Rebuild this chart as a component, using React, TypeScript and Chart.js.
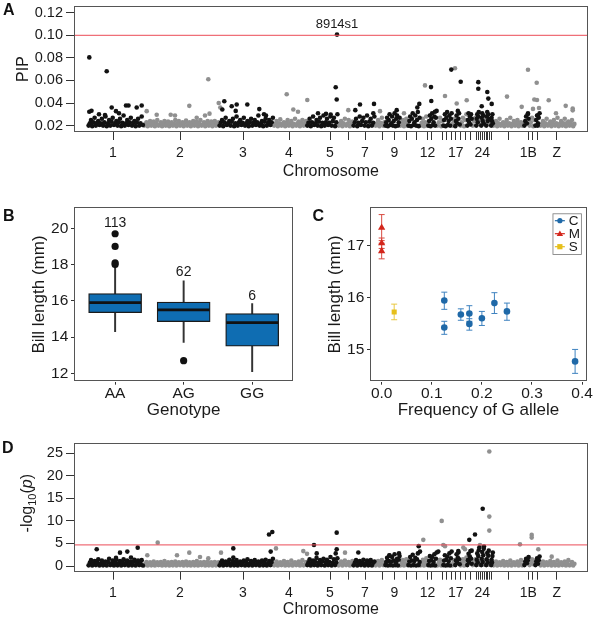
import React, { useEffect, useRef } from 'react';
import { Chart, registerables } from 'chart.js';

Chart.register(...registerables);
const FONT = '"Liberation Sans", Arial, Helvetica, sans-serif';
Chart.defaults.font.family = FONT;
Chart.defaults.color = '#1a1a1a';

// ---------------- Manhattan (genome position units, cumulative) ----------------
const X_MAX = 513.7;
// chromosome segment boundaries (alternating black / gray, starting black)
const segBounds = [14, 69.5, 145, 199.5, 232.7, 264, 279, 301, 311, 326, 334, 346, 354, 363, 369, 378, 381, 386, 393, 398, 402, 405, 407, 410, 412, 415, 417, 419, 450, 455, 461, 466, 501];
const chromTicks = [39, 106, 169, 215, 256, 274.3, 291, 308.5, 320.5, 332, 342, 353.5, 357.7, 368.5, 372.7, 377, 381.8, 386, 391.5, 396.5, 402.7, 404.5, 406.4, 408.3, 410.1, 412, 413.8, 415.7, 417.7, 434, 454.3, 458.5, 463.5, 482.7];
const chromTickLabels = ['1', '2', '3', '4', '5', '', '7', '', '9', '', '', '12', '', '', '', '', '17', '', '', '', '', '', '', '24', '', '', '', '', '', '', '1B', '', '', 'Z'];

// Panel A: PIP background values per chromosome segment
const pipBands: number[][] = [
  [.020, .022, .025, .0195, .023, .027, .020, .0225, .024, .0205, .022, .026, .020, .023, .028, .0195, .022, .025, .020, .0235, .027, .0205, .022, .024, .020, .023, .026, .0195, .0225, .029, .020, .022, .025, .0205, .023, .027, .020, .0225, .024, .0195, .023, .026, .020, .022, .028, .0205],
  [.020, .0215, .023, .0195, .022, .024, .020, .0215, .0235, .0195, .022, .025, .020, .021, .023, .0195, .022, .024, .020, .0215, .0235, .0195, .022, .023, .020, .0215, .025, .0195, .022, .024, .020, .021, .023, .0195, .0225, .0245, .020, .0215, .023, .0195, .022, .024, .020, .0215, .0235, .0195, .022, .025, .020, .021, .023, .0195, .022, .024, .020, .0215, .0235, .0195, .022, .024, .020, .0215, .023],
  [.020, .0225, .025, .0195, .023, .027, .0205, .022, .024, .020, .0235, .026, .0195, .022, .028, .020, .023, .025, .0205, .0225, .027, .020, .022, .024, .0195, .023, .026, .020, .0225, .025, .0205, .023, .029, .020, .022, .024, .0195, .0235, .026, .020, .0225, .025, .0205, .023, .027],
  [.020, .0215, .024, .0195, .022, .0255, .020, .0215, .023, .0195, .0225, .025, .020, .022, .024, .0195, .0215, .026, .020, .022, .0235, .0195, .0225, .025, .020, .0215, .024],
  [.020, .0225, .026, .0195, .023, .028, .0205, .022, .025, .020, .0235, .027, .0195, .0225, .029, .020, .023, .026, .0205, .0225, .028, .020, .024, .027, .0195, .023, .030],
  [.020, .0215, .024, .0195, .022, .026, .020, .0215, .025, .0195, .0225, .0235],
  [.020, .023, .026, .0195, .0225, .028, .0205, .024, .027, .020, .023, .029, .0195, .0235, .026, .020, .0225, .028],
  [.020, .022, .025, .0195, .0225, .027, .020, .023],
  [.020, .023, .027, .0195, .025, .030, .0205, .022, .028, .020, .024, .031, .0195, .026, .029, .020, .023, .027],
  [.020, .022, .025, .0195, .023, .026, .020],
  [.020, .024, .028, .0195, .026, .031, .0205, .023, .029, .020, .025, .032, .0195, .027],
  [.020, .0225, .026, .0195, .023, .028, .020],
  [.020, .024, .029, .0195, .026, .031, .0205, .023, .028, .020, .027, .033],
  [.020, .023, .027, .0195, .024],
  [.020, .025, .030, .0195, .027, .032, .0205, .024, .029, .020, .026, .031],
  [.020, .023, .026],
  [.0195, .024, .029, .022, .033, .026, .031, .021],
  [.020, .023, .027, .0195, .025, .030],
  [.020, .025, .031, .023, .028, .021, .030, .026],
  [.020, .024, .027],
  [.020, .026, .030, .023, .028, .032],
  [.021, .025],
  [.020, .027, .031, .024, .029, .022],
  [.021, .026],
  [.020, .028, .032, .024, .030, .026],
  [.021, .025],
  [.020, .027, .024, .030, .022],
  [.020, .0215, .024, .0195, .022, .026, .020, .0215, .023, .0195, .0225, .025, .020, .022, .027, .0195, .0215, .024, .020, .022, .025, .0195, .0225, .023, .020, .022],
  [.020, .024, .028, .022, .030, .026],
  [.020, .023, .027, .0195, .025],
  [.020, .025, .029, .022, .027, .031],
  [.020, .0215, .024, .0195, .022, .026, .020, .0215, .0235, .0195, .0225, .025, .020, .022, .027, .0195, .0215, .024, .020, .022, .026, .0195, .0225, .0235, .020, .022, .025, .0195, .0215],
];
const pipBlackPos = [15.3, 32.7, 15.3, 17.5, 37.7, 42, 52, 54.5, 62.7, 67.7, 31, 25, 45, 150.3, 148.3, 157.7, 162.7, 161.7, 173.3, 185.3, 190, 192, 263, 261.7, 262.7, 252, 256.7, 244, 286, 281.3, 300, 299.3, 322.7, 357, 357.3, 345.3, 343.3, 361, 377.3, 386.7, 404.3, 404.3, 413.3, 414.3, 417.7, 407.7, 454, 463.7, 463.7];
const pipBlackVal = [.0804, .0682, .0322, .0332, .036, .0328, .0378, .0378, .036, .0378, .0293, .030, .031, .0416, .0343, .0372, .0387, .033, .0387, .0346, .030, .029, .1006, .0539, .0431, .0304, .0298, .031, .0387, .0337, .0392, .031, .0337, .0541, .0418, .0392, .036, .0322, .0696, .0589, .0585, .0527, .0497, .0439, .0392, .0372, .0308, .029, .020];
const pipGrayPos = [134.3, 115.3, 72.7, 82.7, 96.7, 101, 122.7, 131, 135.5, 144.7, 146.3, 212.7, 219.3, 224, 233.3, 274.3, 306, 330, 351, 371, 381, 382.7, 392.7, 433, 447.7, 454, 462.7, 460.3, 463, 459, 465, 474.7, 482, 491.7, 498.7, 498.7];
const pipGrayVal = [.0611, .0375, .0328, .0296, .0296, .029, .027, .029, .0306, .040, .036, .0477, .0343, .0322, .0427, .0337, .0328, .031, .0556, .0462, .0708, .0396, .0425, .0457, .0366, .0694, .058, .0431, .0427, .0348, .0356, .0425, .031, .0375, .0352, .0335];
const pipThreshold = 0.1;
const pipTicks = [0.02, 0.04, 0.06, 0.08, 0.10, 0.12];
const topSnpName = '8914s1';
const topSnpPos = 263;
const topSnpPip = 0.1006;

// Panel D: -log10(p) background values per chromosome segment
const logpBands: number[][] = [
  [0.15, 0.7, 1.3, 0.1, 0.6, 1.1, 0.2, 0.8, 1.5, 0.1, 0.6, 1.2, 0.15, 0.7, 1.0, 0.1, 0.9, 1.6, 0.2, 0.6, 1.2, 0.1, 0.7, 1.4, 0.15, 0.6, 1.1, 0.1, 0.8, 1.5, 0.2, 0.7, 1.2, 0.1, 0.6, 1.0, 0.15, 0.9, 1.4, 0.1, 0.7, 1.2, 0.2, 0.6, 1.3, 0.1],
  [0.15, 0.5, 0.9, 0.1, 0.4, 0.8, 0.15, 0.5, 1.0, 0.1, 0.5, 0.8, 0.2, 0.4, 0.9, 0.1, 0.5, 1.1, 0.15, 0.4, 0.8, 0.1, 0.5, 0.9, 0.15, 0.5, 1.0, 0.1, 0.4, 0.8, 0.2, 0.5, 0.9, 0.1, 0.5, 1.0, 0.15, 0.4, 0.8, 0.1, 0.5, 0.9, 0.15, 0.5, 1.1, 0.1, 0.4, 0.8, 0.2, 0.5, 0.9, 0.1, 0.5, 1.0, 0.15, 0.4, 0.8, 0.1, 0.5, 0.9, 0.15, 0.5, 0.8],
  [0.15, 0.7, 1.2, 0.1, 0.6, 1.0, 0.2, 0.8, 1.4, 0.1, 0.6, 1.1, 0.15, 0.7, 1.3, 0.1, 0.6, 1.0, 0.2, 0.8, 1.2, 0.1, 0.7, 1.5, 0.15, 0.6, 1.1, 0.1, 0.7, 1.3, 0.2, 0.6, 1.0, 0.1, 0.8, 1.2, 0.15, 0.7, 1.4, 0.1, 0.6, 1.1, 0.2, 0.9, 1.6],
  [0.15, 0.5, 1.0, 0.1, 0.4, 0.8, 0.2, 0.5, 1.1, 0.1, 0.6, 0.9, 0.15, 0.4, 1.2, 0.1, 0.5, 0.8, 0.2, 0.6, 1.0, 0.1, 0.5, 1.3, 0.15, 0.4, 0.9],
  [0.2, 0.8, 1.5, 0.1, 0.7, 1.2, 0.2, 0.9, 1.8, 0.1, 0.7, 1.3, 0.2, 1.0, 1.6, 0.1, 0.8, 1.4, 0.2, 0.9, 2.0, 0.1, 0.7, 1.5, 0.2, 0.8, 1.7],
  [0.15, 0.5, 1.0, 0.1, 0.6, 1.2, 0.2, 0.5, 0.9, 0.1, 0.6, 1.1],
  [0.15, 0.7, 1.3, 0.1, 0.8, 1.1, 0.2, 0.7, 1.4, 0.1, 0.6, 1.2, 0.15, 0.8, 1.3, 0.1, 0.7, 1.0],
  [0.15, 0.6, 1.1, 0.1, 0.5, 1.3, 0.2, 0.7],
  [0.2, 0.9, 1.8, 0.1, 1.1, 2.3, 0.2, 1.0, 2.0, 0.1, 1.2, 2.6, 0.2, 0.8, 1.6, 0.1, 1.4, 2.2],
  [0.15, 0.7, 1.3, 0.1, 0.6, 1.5, 0.2],
  [0.2, 1.0, 2.0, 0.1, 1.2, 2.5, 0.2, 1.1, 1.8, 0.1, 1.5, 2.8, 0.2, 0.9],
  [0.15, 0.7, 1.4, 0.1, 0.8, 1.7, 0.2],
  [0.2, 1.1, 2.2, 0.1, 1.3, 2.0, 0.2, 0.9, 2.6, 0.1, 1.6, 3.0],
  [0.15, 0.8, 1.4, 0.1, 1.0],
  [0.2, 1.2, 2.4, 0.1, 1.4, 2.1, 0.2, 1.0, 2.8, 0.1, 1.7, 3.2],
  [0.15, 0.8, 1.3],
  [0.2, 1.2, 2.6, 0.7, 1.9, 3.0, 1.5, 0.4],
  [0.15, 0.8, 1.5, 0.1, 1.0, 1.9],
  [0.2, 1.3, 2.7, 0.8, 2.1, 3.3, 1.6, 0.5],
  [0.2, 0.9, 1.5],
  [0.2, 1.4, 2.8, 0.8, 2.2, 3.5],
  [0.3, 1.2],
  [0.2, 1.6, 3.1, 0.9, 2.4, 3.8],
  [0.3, 1.3],
  [0.2, 1.5, 2.9, 0.8, 2.3, 3.4],
  [0.3, 1.1],
  [0.2, 1.4, 0.8, 2.2, 3.0],
  [0.15, 0.5, 1.0, 0.1, 0.4, 0.8, 0.2, 0.5, 1.1, 0.1, 0.6, 0.9, 0.15, 0.4, 1.2, 0.1, 0.5, 0.8, 0.2, 0.6, 1.0, 0.1, 0.5, 1.3, 0.15, 0.4],
  [0.2, 1.0, 1.6, 0.6, 1.3, 2.0],
  [0.2, 0.8, 1.5, 0.4, 1.1],
  [0.2, 1.0, 1.7, 0.5, 1.3, 2.1],
  [0.15, 0.5, 1.0, 0.1, 0.4, 0.8, 0.2, 0.5, 1.1, 0.1, 0.6, 0.9, 0.15, 0.4, 1.2, 0.1, 0.5, 0.8, 0.2, 0.6, 1.0, 0.1, 0.5, 1.3, 0.15, 0.4, 0.9, 0.1, 0.5],
];
const logpBlackPos = [22.7, 46, 53.3, 63.7, 57, 42, 159.3, 159.3, 195, 198.3, 196.7, 240, 242.7, 262.7, 262.7, 261.7, 284.3, 315.3, 325, 344.7, 346, 364.3, 384.3, 395.3, 401, 397.7, 405.3, 408.7, 410];
const logpBlackVal = [3.7, 2.96, 3.2, 4.07, 1.9, 1.8, 3.9, 1.9, 7.0, 7.55, 3.2, 4.67, 2.8, 7.4, 3.7, 2.8, 3.0, 2.4, 2.8, 4.4, 3.2, 3.2, 3.3, 5.8, 7.0, 3.4, 4.1, 12.7, 4.3];
const logpGrayPos = [83.7, 73.3, 103, 115.3, 126, 134.3, 147, 202, 229.3, 233, 271, 349.3, 367.7, 369.3, 371, 389.3, 391, 415.3, 415.3, 415.3, 406, 446, 457.7, 457.7, 464.3, 477.7];
const logpGrayVal = [5.18, 2.4, 2.4, 2.96, 2.0, 1.7, 2.96, 3.9, 3.3, 2.7, 2.96, 5.8, 10.0, 4.67, 4.4, 4.1, 3.7, 25.4, 10.96, 7.85, 4.67, 4.8, 6.9, 6.3, 3.7, 2.07];
const logpThreshold = 4.7;
const logpTicks = [0, 5, 10, 15, 20, 25];

// ---------------- Panel B: boxplot ----------------
const genotypes = ['AA', 'AG', 'GG'];
const boxLow = [14.3, 13.7, 12.1];
const boxQ1 = [15.35, 14.85, 13.5];
const boxMed = [15.9, 15.5, 14.8];
const boxQ3 = [16.4, 15.93, 15.3];
const boxHigh = [17.85, 17.1, 15.85];
const outlierGroup = [1, 1, 1, 1, 2];
const outlierBill = [18.0, 18.1, 19.0, 19.7, 12.7];
const genoCounts = ['113', '62', '6'];
const countLabelY = [20.31, 17.56, 16.26];
const billTicksB = [12, 14, 16, 18, 20];

// ---------------- Panel C: frequency vs bill length ----------------
const cFreq = [0.125, 0.125, 0.158, 0.175, 0.175, 0.2, 0.225, 0.25, 0.386];
const cBill = [15.95, 15.43, 15.68, 15.70, 15.50, 15.61, 15.90, 15.74, 14.78];
const cLo = [15.78, 15.30, 15.57, 15.55, 15.38, 15.47, 15.70, 15.57, 14.55];
const cHi = [16.11, 15.55, 15.79, 15.85, 15.60, 15.74, 16.10, 15.90, 15.01];
const mFreq = [0, 0, 0];
const mBill = [17.35, 17.05, 16.9];
const mLo = [17.1, 16.95, 16.75];
const mHi = [17.6, 17.15, 17.05];
const sFreq = [0.025];
const sBill = [15.73];
const sLo = [15.58];
const sHi = [15.88];
const freqTicks = [0, 0.1, 0.2, 0.3, 0.4];
const billTicksC = [15, 16, 17];

// ---------------- helpers ----------------
type Pt = { x: number; y: number };
function bandPoints(bands: number[][], black: boolean): Pt[] {
  const pts: Pt[] = [];
  bands.forEach((vals, s) => {
    if ((s % 2 === 0) !== black) return;
    const a = segBounds[s];
    const b = segBounds[s + 1];
    const step = (b - a) / vals.length;
    vals.forEach((v, i) => pts.push({ x: a + step * (i + 0.5), y: v }));
  });
  return pts;
}
function pairs(pos: number[], val: number[]): Pt[] {
  return pos.map((p, i) => ({ x: p, y: val[i] }));
}

const framePlugin = (color: string) => ({
  id: 'frame',
  afterDraw(chart: any) {
    const { ctx, chartArea: a } = chart;
    ctx.save();
    ctx.strokeStyle = color;
    ctx.lineWidth = 1;
    ctx.strokeRect(Math.round(a.left) + 0.5, Math.round(a.top) + 0.5, Math.round(a.right - a.left) - 1, Math.round(a.bottom - a.top) - 1);
    ctx.restore();
  },
});

const baseOptions = (pad: any) => ({
  animation: false as const,
  responsive: false,
  devicePixelRatio: 1,
  events: [] as any[],
  layout: { autoPadding: false, padding: pad },
  plugins: { legend: { display: false }, tooltip: { enabled: false } },
});

function manhattan(canvas: HTMLCanvasElement, o: any) {
  const black = [...bandPoints(o.bands, true), ...pairs(o.bPos, o.bVal)];
  const gray = [...bandPoints(o.bands, false), ...pairs(o.gPos, o.gVal)];
  return new Chart(canvas, {
    type: 'scatter',
    data: {
      datasets: [
        { type: 'line', data: [{ x: 0, y: o.thr }, { x: X_MAX, y: o.thr }], borderColor: 'rgba(236,86,96,0.85)', borderWidth: 1.3, pointRadius: 0, order: 0 } as any,
        { data: black, backgroundColor: '#121212', pointRadius: 2.3, borderWidth: 0, pointBorderWidth: 0, order: 1 },
        { data: gray, backgroundColor: '#909090', pointRadius: 2.3, borderWidth: 0, pointBorderWidth: 0, order: 2 },
      ],
    },
    options: {
      ...baseOptions({ left: 0, right: 5.3, top: o.padTop, bottom: 0 }),
      scales: {
        x: {
          type: 'linear', min: 0, max: X_MAX,
          afterBuildTicks: (s: any) => { s.ticks = chromTicks.map((v) => ({ value: v })); },
          afterFit: (s: any) => { s.height = o.xH; },
          ticks: { autoSkip: false, maxRotation: 0, minRotation: 0, padding: 5, font: { size: 14 }, color: '#1a1a1a', callback: (_v: any, i: number) => chromTickLabels[i] },
          grid: { drawOnChartArea: false, drawTicks: true, tickLength: 8, color: '#333', lineWidth: 1 },
          border: { display: false },
          title: { display: true, text: 'Chromosome', font: { size: 16 }, color: '#1a1a1a', padding: { top: 0, bottom: o.titlePadBottom } },
        },
        y: {
          type: 'linear', min: o.yMin, max: o.yMax,
          afterBuildTicks: (s: any) => { s.ticks = o.yTicks.map((v: number) => ({ value: v })); },
          afterFit: (s: any) => { s.width = 74; },
          ticks: { padding: 3, font: { size: 14.5 }, color: '#1a1a1a', callback: (v: any) => Number(v).toFixed(o.yDecimals) },
          grid: { drawOnChartArea: false, drawTicks: true, tickLength: 8, color: '#333', lineWidth: 1 },
          border: { display: false },
          title: { display: !!o.yTitle, text: o.yTitle || '', font: { size: 16 }, color: '#1a1a1a', padding: { top: 14.4, bottom: 0 } },
        },
      },
    } as any,
    plugins: [framePlugin('#555'), ...(o.extra || [])],
  });
}

function buildA(canvas: HTMLCanvasElement) {
  const snpLabel = {
    id: 'snpLabel',
    afterDatasetsDraw(chart: any) {
      const { ctx, scales } = chart;
      ctx.save();
      ctx.font = `13px ${FONT}`;
      ctx.fillStyle = '#1a1a1a';
      ctx.textAlign = 'center';
      ctx.textBaseline = 'middle';
      ctx.fillText(topSnpName, scales.x.getPixelForValue(topSnpPos), scales.y.getPixelForValue(topSnpPip) - 10);
      ctx.restore();
    },
  };
  return manhattan(canvas, {
    bands: pipBands, bPos: pipBlackPos, bVal: pipBlackVal, gPos: pipGrayPos, gVal: pipGrayVal,
    thr: pipThreshold, yMin: 0.01433, yMax: 0.12593, yTicks: pipTicks, yDecimals: 2, yTitle: 'PIP',
    padTop: 18, xH: 50, titlePadBottom: 0.4, extra: [snpLabel],
  });
}

function buildD(canvas: HTMLCanvasElement) {
  const yTitle = {
    id: 'logTitle',
    afterDraw(chart: any) {
      const { ctx, chartArea } = chart;
      const parts = [
        { t: '-log', f: `16px ${FONT}`, dy: 0 },
        { t: '10', f: `11px ${FONT}`, dy: 5 },
        { t: '(', f: `16px ${FONT}`, dy: 0 },
        { t: 'p', f: `italic 16px ${FONT}`, dy: 0 },
        { t: ')', f: `16px ${FONT}`, dy: 0 },
      ];
      ctx.save();
      ctx.translate(27.5, (chartArea.top + chartArea.bottom) / 2 - 4);
      ctx.rotate(-Math.PI / 2);
      ctx.fillStyle = '#1a1a1a';
      ctx.textBaseline = 'middle';
      ctx.textAlign = 'left';
      let total = 0;
      const widths = parts.map((p) => { ctx.font = p.f; const w = ctx.measureText(p.t).width; total += w; return w; });
      let x = -total / 2;
      parts.forEach((p, i) => { ctx.font = p.f; ctx.fillText(p.t, x, p.dy); x += widths[i]; });
      ctx.restore();
    },
  };
  return manhattan(canvas, {
    bands: logpBands, bPos: logpBlackPos, bVal: logpBlackVal, gPos: logpGrayPos, gVal: logpGrayVal,
    thr: logpThreshold, yMin: -1.264, yMax: 27.35, yTicks: logpTicks, yDecimals: 0, yTitle: null,
    padTop: 17.7, xH: 49.3, titlePadBottom: 1.4, extra: [yTitle],
  });
}

function buildB(canvas: HTMLCanvasElement) {
  const boxExtras = {
    id: 'boxExtras',
    afterDatasetsDraw(chart: any) {
      const { ctx, scales } = chart;
      const meta = chart.getDatasetMeta(1);
      ctx.save();
      ctx.strokeStyle = '#111';
      ctx.lineWidth = 2.6;
      meta.data.forEach((bar: any, i: number) => {
        const y = scales.y.getPixelForValue(boxMed[i]);
        ctx.beginPath();
        ctx.moveTo(bar.x - bar.width / 2 + 0.6, y);
        ctx.lineTo(bar.x + bar.width / 2 - 0.6, y);
        ctx.stroke();
      });
      ctx.font = `14px ${FONT}`;
      ctx.fillStyle = '#1a1a1a';
      ctx.textAlign = 'center';
      ctx.textBaseline = 'middle';
      genoCounts.forEach((t, i) => ctx.fillText(t, scales.x.getPixelForValue(i + 1), scales.y.getPixelForValue(countLabelY[i])));
      ctx.restore();
    },
  };
  return new Chart(canvas, {
    type: 'bar',
    data: {
      datasets: [
        { type: 'scatter', data: outlierGroup.map((g, i) => ({ x: g, y: outlierBill[i] })), backgroundColor: '#111', pointRadius: 3.6, borderWidth: 0, pointBorderWidth: 0, order: 0 } as any,
        { type: 'bar', data: boxQ1.map((q, i) => ({ x: i + 1, y: [q, boxQ3[i]] })), backgroundColor: '#0f6db2', borderColor: '#1b1b1b', borderWidth: 1.3, borderSkipped: false, barThickness: 53, grouped: false, order: 1 } as any,
        { type: 'bar', data: boxLow.map((l, i) => ({ x: i + 1, y: [l, boxHigh[i]] })), backgroundColor: '#333', borderWidth: 0, barThickness: 1.3, grouped: false, order: 2 } as any,
      ],
    },
    options: {
      ...baseOptions({ left: 0, right: 6.7, top: 17.3, bottom: 0 }),
      scales: {
        x: {
          type: 'linear', min: 0.4, max: 3.6, offset: false,
          afterBuildTicks: (s: any) => { s.ticks = [1, 2, 3].map((v) => ({ value: v })); },
          afterFit: (s: any) => { s.height = 40.3; },
          ticks: { autoSkip: false, maxRotation: 0, padding: 0, font: { size: 15.5 }, color: '#1a1a1a', callback: (_v: any, i: number) => genotypes[i] },
          grid: { offset: false, drawOnChartArea: false, drawTicks: true, tickLength: 3, color: '#333' },
          border: { display: false },
          title: { display: true, text: 'Genotype', font: { size: 17 }, color: '#1a1a1a', padding: { top: 0, bottom: 1.8 } },
        },
        y: {
          type: 'linear', min: 11.54, max: 21.16,
          afterBuildTicks: (s: any) => { s.ticks = billTicksB.map((v) => ({ value: v })); },
          afterFit: (s: any) => { s.width = 74; },
          ticks: { padding: 2.7, font: { size: 15.5 }, color: '#1a1a1a' },
          grid: { drawOnChartArea: false, drawTicks: true, tickLength: 3, color: '#333' },
          border: { display: false },
          title: { display: true, text: 'Bill length (mm)', font: { size: 17 }, color: '#1a1a1a', padding: { top: 28.8, bottom: 0 } },
        },
      },
    } as any,
    plugins: [framePlugin('#555'), boxExtras],
  });
}

function buildC(canvas: HTMLCanvasElement) {
  const series = [
    { label: 'C', freq: cFreq, bill: cBill, lo: cLo, hi: cHi, color: '#1f69a8', bar: '#3f83c0', style: 'circle', r: 3.3 },
    { label: 'M', freq: mFreq, bill: mBill, lo: mLo, hi: mHi, color: '#d3261b', bar: '#d84a40', style: 'triangle', r: 4.2 },
    { label: 'S', freq: sFreq, bill: sBill, lo: sLo, hi: sHi, color: '#e6bf1a', bar: '#e9c840', style: 'rect', r: 3.6 },
  ];
  const errorBars = {
    id: 'errorBars',
    beforeDatasetsDraw(chart: any) {
      const { ctx, scales } = chart;
      ctx.save();
      ctx.lineWidth = 1;
      series.forEach((s) => {
        ctx.strokeStyle = s.bar;
        s.freq.forEach((f, i) => {
          const x = scales.x.getPixelForValue(f);
          const y1 = scales.y.getPixelForValue(s.lo[i]);
          const y2 = scales.y.getPixelForValue(s.hi[i]);
          ctx.beginPath();
          ctx.moveTo(x, y1); ctx.lineTo(x, y2);
          ctx.moveTo(x - 3, y1); ctx.lineTo(x + 3, y1);
          ctx.moveTo(x - 3, y2); ctx.lineTo(x + 3, y2);
          ctx.stroke();
        });
      });
      ctx.restore();
    },
  };
  const legendBox = {
    id: 'legendBox',
    afterDraw(chart: any) {
      const { ctx, chartArea: a } = chart;
      const L = a.right - 34.4, T = a.top + 6, R = a.right - 6, B = a.top + 46.7;
      ctx.save();
      ctx.fillStyle = '#fff';
      ctx.fillRect(L, T, R - L, B - T);
      ctx.strokeStyle = '#777';
      ctx.lineWidth = 0.8;
      ctx.strokeRect(L + 0.5, T + 0.5, R - L, B - T);
      ctx.font = `13.5px ${FONT}`;
      ctx.textBaseline = 'middle';
      ctx.textAlign = 'left';
      series.forEach((s, i) => {
        const y = a.top + 13.4 + i * 13;
        const cx = a.right - 27;
        ctx.strokeStyle = s.color;
        ctx.lineWidth = 1.2;
        ctx.beginPath(); ctx.moveTo(cx - 5, y); ctx.lineTo(cx + 5, y); ctx.stroke();
        ctx.fillStyle = s.color;
        ctx.beginPath();
        if (s.style === 'circle') ctx.arc(cx, y, 2.6, 0, Math.PI * 2);
        else if (s.style === 'triangle') { ctx.moveTo(cx, y - 3.2); ctx.lineTo(cx + 3.2, y + 2.4); ctx.lineTo(cx - 3.2, y + 2.4); ctx.closePath(); }
        else ctx.rect(cx - 2.6, y - 2.6, 5.2, 5.2);
        ctx.fill();
        ctx.fillStyle = '#1a1a1a';
        ctx.fillText(s.label, a.right - 18, y + 0.5);
      });
      ctx.restore();
    },
  };
  return new Chart(canvas, {
    type: 'scatter',
    data: {
      datasets: series.map((s) => ({
        label: s.label,
        data: s.freq.map((f, i) => ({ x: f, y: s.bill[i] })),
        backgroundColor: s.color, borderColor: s.color, borderWidth: 0, pointBorderWidth: 0,
        pointStyle: s.style, pointRadius: s.r,
      })) as any,
    },
    options: {
      ...baseOptions({ left: 0, right: 5.3, top: 17.3, bottom: 0 }),
      scales: {
        x: {
          type: 'linear', min: -0.02326, max: 0.4095,
          afterBuildTicks: (s: any) => { s.ticks = freqTicks.map((v) => ({ value: v })); },
          afterFit: (s: any) => { s.height = 40.3; },
          ticks: { autoSkip: false, maxRotation: 0, padding: 0, font: { size: 15.5 }, color: '#1a1a1a', callback: (v: any) => Number(v).toFixed(1) },
          grid: { drawOnChartArea: false, drawTicks: true, tickLength: 3, color: '#333' },
          border: { display: false },
          title: { display: true, text: 'Frequency of G allele', font: { size: 17 }, color: '#1a1a1a', padding: { top: 0, bottom: 1.8 } },
        },
        y: {
          type: 'linear', min: 14.39, max: 17.74,
          afterBuildTicks: (s: any) => { s.ticks = billTicksC.map((v) => ({ value: v })); },
          afterFit: (s: any) => { s.width = 74; },
          ticks: { padding: 2.7, font: { size: 15.5 }, color: '#1a1a1a' },
          grid: { drawOnChartArea: false, drawTicks: true, tickLength: 3, color: '#333' },
          border: { display: false },
          title: { display: true, text: 'Bill length (mm)', font: { size: 17 }, color: '#1a1a1a', padding: { top: 28.8, bottom: 0 } },
        },
      },
    } as any,
    plugins: [framePlugin('#555'), errorBars, legendBox],
  });
}

export default function App() {
  const refA = useRef<HTMLCanvasElement>(null);
  const refB = useRef<HTMLCanvasElement>(null);
  const refC = useRef<HTMLCanvasElement>(null);
  const refD = useRef<HTMLCanvasElement>(null);
  useEffect(() => {
    const charts = [buildA(refA.current!), buildB(refB.current!), buildC(refC.current!), buildD(refD.current!)];
    return () => charts.forEach((c) => c.destroy());
  }, []);
  const cs = (l: number, t: number): React.CSSProperties => ({ position: 'absolute', left: l, top: t, display: 'block' });
  const letter = (l: number, t: number): React.CSSProperties => ({ position: 'absolute', left: l, top: t, fontFamily: FONT, fontWeight: 700, fontSize: 16, lineHeight: '16px', color: '#111' });
  return (
    <div style={{ position: 'fixed', left: 0, top: 0, width: 593, height: 621, background: '#fff', overflow: 'hidden' }}>
      <canvas ref={refA} width={593} height={194} style={cs(0, -12)} />
      <canvas ref={refB} width={300} height={232} style={cs(0, 190)} />
      <canvas ref={refC} width={297} height={232} style={cs(296, 190)} />
      <canvas ref={refD} width={593} height={196} style={cs(0, 425)} />
      <div style={letter(3, 2)}>A</div>
      <div style={letter(3, 208)}>B</div>
      <div style={letter(312.5, 208)}>C</div>
      <div style={letter(2, 439.5)}>D</div>
    </div>
  );
}
